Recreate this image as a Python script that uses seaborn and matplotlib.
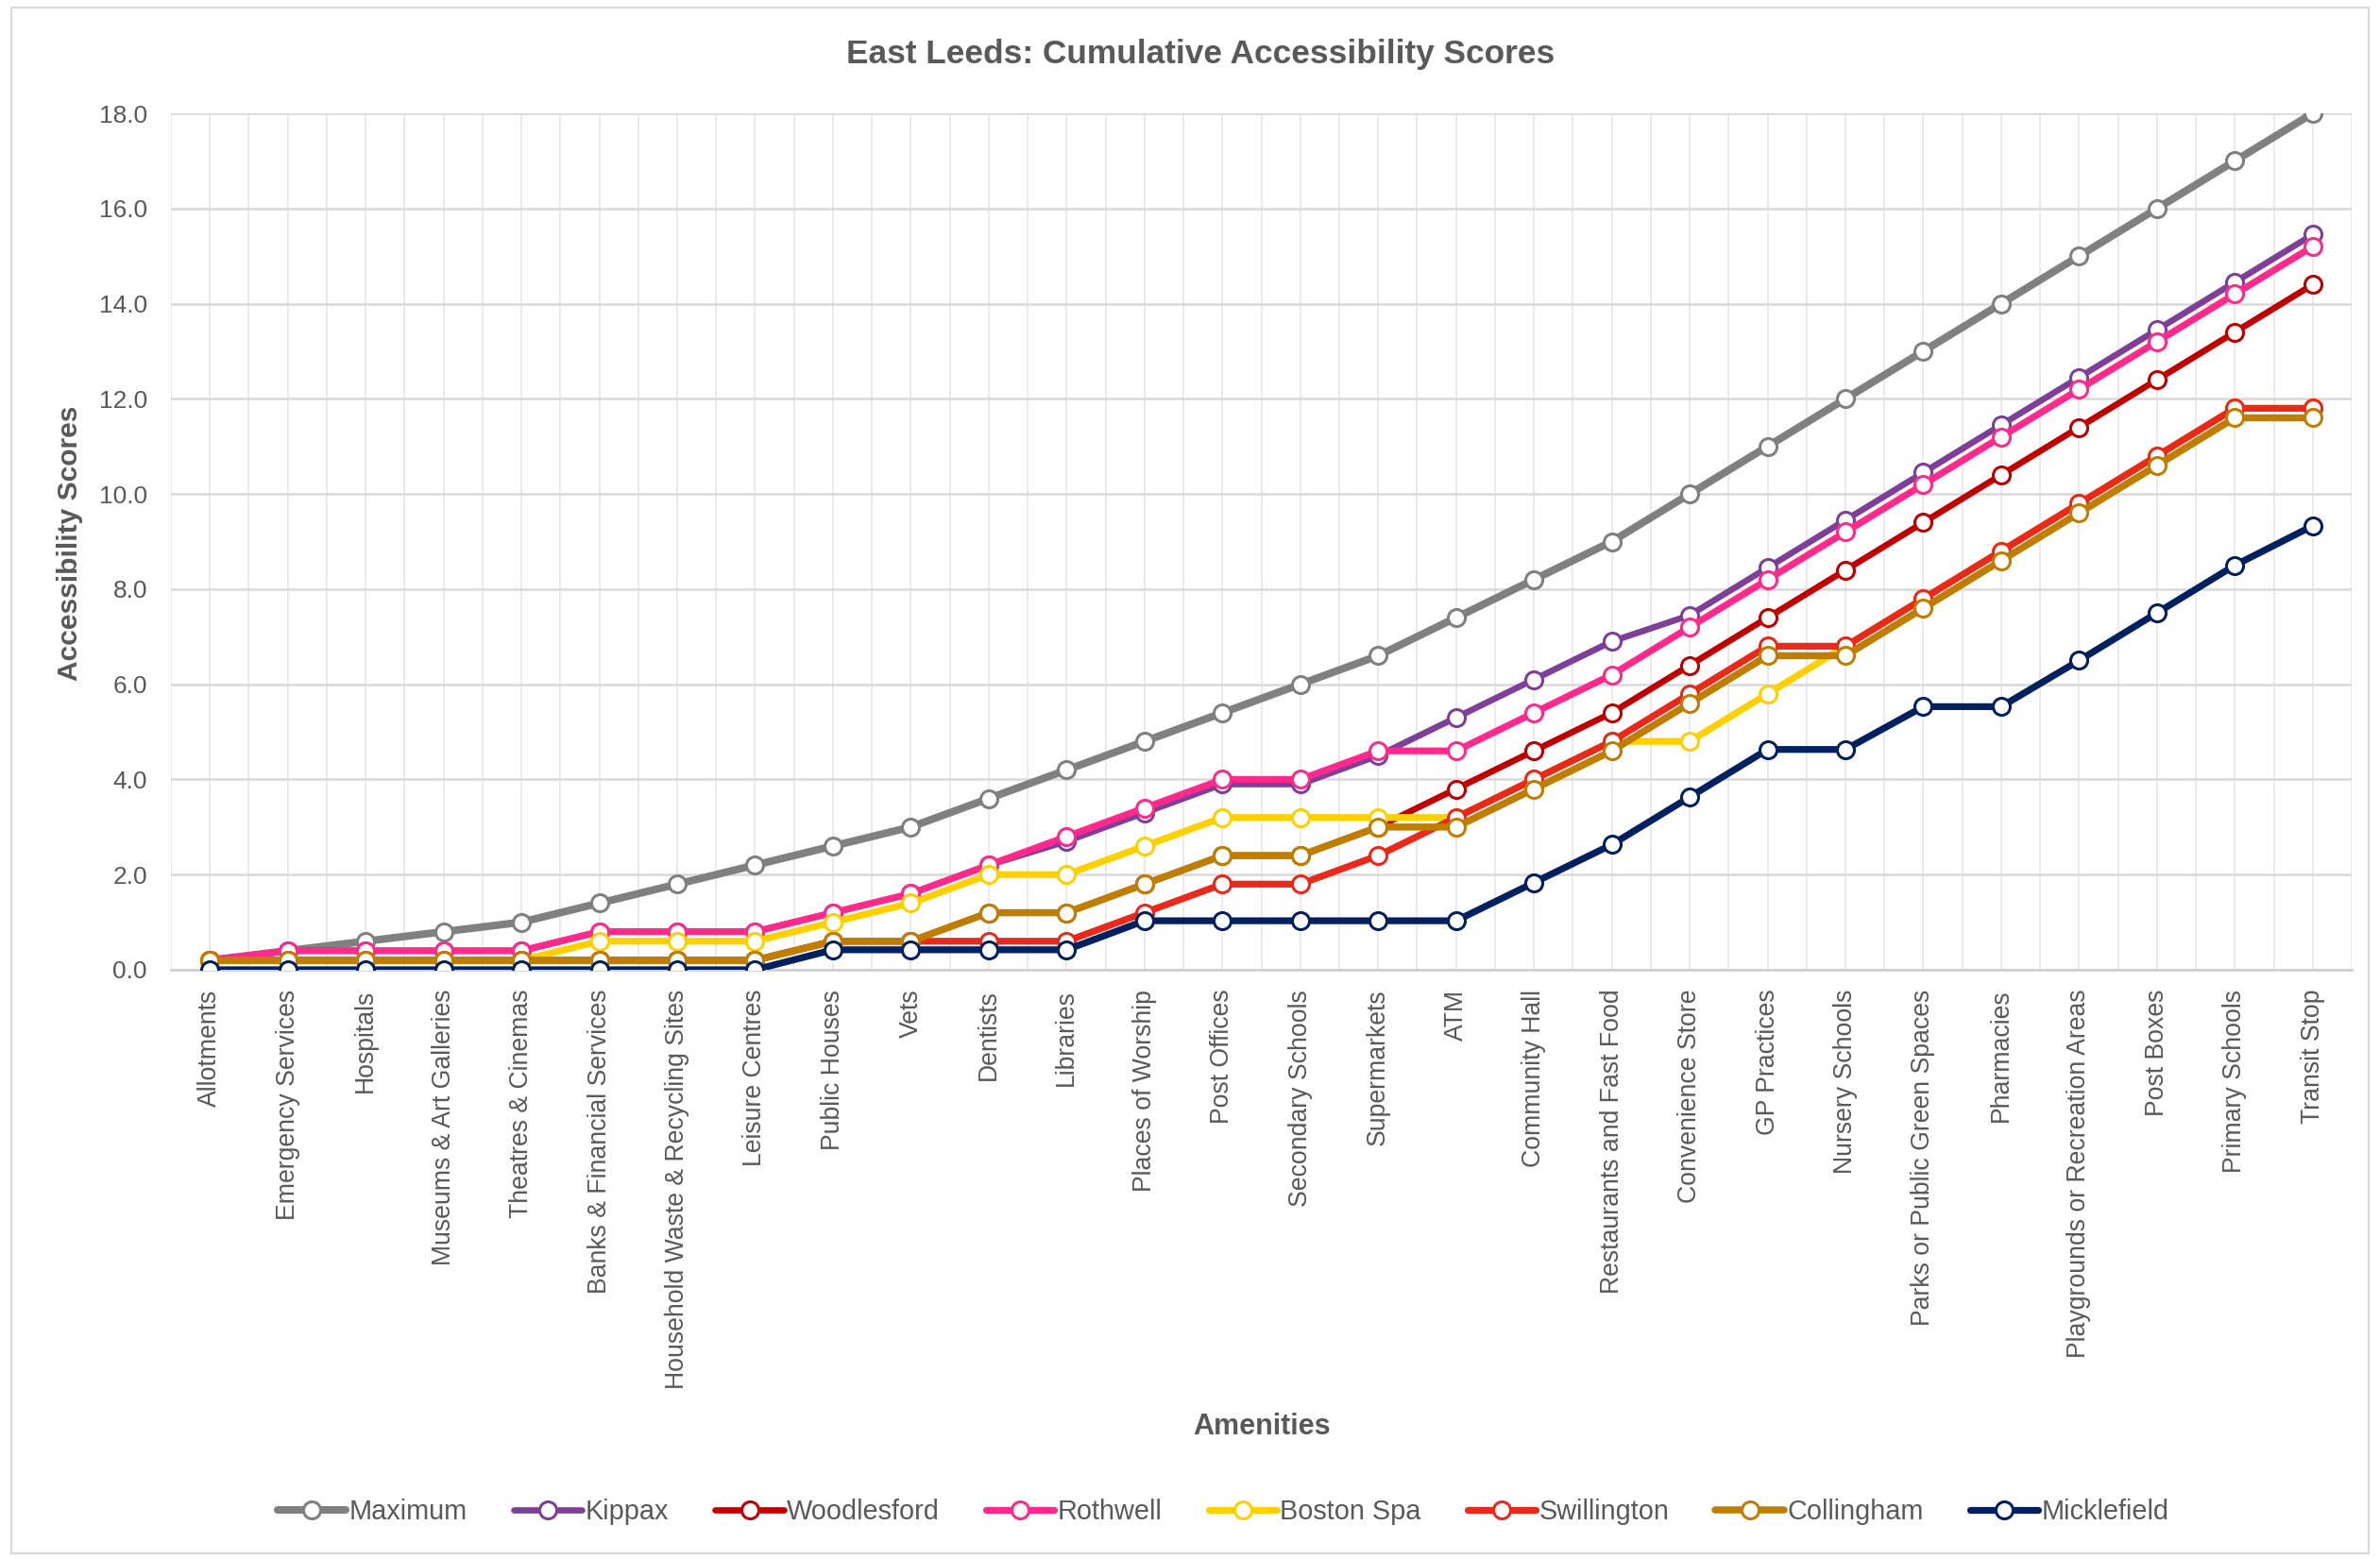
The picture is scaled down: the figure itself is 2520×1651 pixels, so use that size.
import matplotlib
matplotlib.use("Agg")
import matplotlib.pyplot as plt
from matplotlib.patches import Rectangle
from matplotlib.ticker import FixedLocator, FuncFormatter
import pandas as pd
import seaborn as sns

amenities = [
    "Allotments", "Emergency Services", "Hospitals", "Museums & Art Galleries",
    "Theatres & Cinemas", "Banks & Financial Services",
    "Household Waste & Recycling Sites", "Leisure Centres", "Public Houses",
    "Vets", "Dentists", "Libraries", "Places of Worship", "Post Offices",
    "Secondary Schools", "Supermarkets", "ATM", "Community Hall",
    "Restaurants and Fast Food", "Convenience Store", "GP Practices",
    "Nursery Schools", "Parks or Public Green Spaces", "Pharmacies",
    "Playgrounds or Recreation Areas", "Post Boxes", "Primary Schools",
    "Transit Stop",
]

maximum = [0.2, 0.4, 0.6, 0.8, 1.0, 1.4, 1.8, 2.2, 2.6, 3.0, 3.6, 4.2, 4.8, 5.4,
           6.0, 6.6, 7.4, 8.2, 9.0, 10.0, 11.0, 12.0, 13.0, 14.0, 15.0, 16.0, 17.0, 18.0]
kippax = [0.2, 0.4, 0.4, 0.4, 0.4, 0.8, 0.8, 0.8, 1.2, 1.6, 2.2, 2.7, 3.3, 3.9,
          3.9, 4.5, 5.3, 6.1, 6.9, 7.45, 8.45, 9.45, 10.45, 11.45, 12.45, 13.45, 14.45, 15.45]
woodlesford = [0.2, 0.2, 0.2, 0.2, 0.2, 0.2, 0.2, 0.2, 0.6, 0.6, 1.2, 1.2, 1.8, 2.4,
               2.4, 3.0, 3.8, 4.6, 5.4, 6.4, 7.4, 8.4, 9.4, 10.4, 11.4, 12.4, 13.4, 14.4]
rothwell = [0.2, 0.4, 0.4, 0.4, 0.4, 0.8, 0.8, 0.8, 1.2, 1.6, 2.2, 2.8, 3.4, 4.0,
            4.0, 4.6, 4.6, 5.4, 6.2, 7.2, 8.2, 9.2, 10.2, 11.2, 12.2, 13.2, 14.2, 15.2]
boston_spa = [0.2, 0.2, 0.2, 0.2, 0.2, 0.6, 0.6, 0.6, 1.0, 1.4, 2.0, 2.0, 2.6, 3.2,
              3.2, 3.2, 3.2, 4.0, 4.8, 4.8, 5.8, 6.8, 7.8, 8.8, 9.8, 10.8, 11.8, 11.8]
swillington = [0.2, 0.2, 0.2, 0.2, 0.2, 0.2, 0.2, 0.2, 0.6, 0.6, 0.6, 0.6, 1.2, 1.8,
               1.8, 2.4, 3.2, 4.0, 4.8, 5.8, 6.8, 6.8, 7.8, 8.8, 9.8, 10.8, 11.8, 11.8]
collingham = [0.2, 0.2, 0.2, 0.2, 0.2, 0.2, 0.2, 0.2, 0.6, 0.6, 1.2, 1.2, 1.8, 2.4,
              2.4, 3.0, 3.0, 3.8, 4.6, 5.6, 6.6, 6.6, 7.6, 8.6, 9.6, 10.6, 11.6, 11.6]
micklefield = [0.0, 0.0, 0.0, 0.0, 0.0, 0.0, 0.0, 0.0, 0.42, 0.42, 0.42, 0.42, 1.03, 1.03,
               1.03, 1.03, 1.03, 1.83, 2.63, 3.63, 4.63, 4.63, 5.53, 5.53, 6.5, 7.5, 8.5, 9.33]

series_names = ["Maximum", "Kippax", "Woodlesford", "Rothwell", "Boston Spa",
                "Swillington", "Collingham", "Micklefield"]
series_values = [maximum, kippax, woodlesford, rothwell, boston_spa,
                 swillington, collingham, micklefield]
series_colors = ["#808080", "#7E3F98", "#C00000", "#FF2A8C", "#FFD000",
                 "#E8291C", "#BF7E00", "#002060"]
series_widths = [2.9, 2.4, 2.4, 2.6, 2.6, 2.6, 2.7, 2.6]

y_ticks = [0, 2, 4, 6, 8, 10, 12, 14, 16, 18]

df = pd.DataFrame([
    {"Amenity": a, "Area": name, "Score": v}
    for name, vals in zip(series_names, series_values)
    for a, v in zip(amenities, vals)
])

sns.set_theme(style="white")
plt.rcParams["font.family"] = ["Liberation Sans", "DejaVu Sans"]
text_grey = "#595959"

W, H, DPI = 2520, 1651, 200
fig = plt.figure(figsize=(W / DPI, H / DPI), dpi=DPI)
fig.patch.set_facecolor("white")

left, right, top, bottom = 181 / W, 2490 / W, 1 - 120 / H, 1 - 1027 / H
ax = fig.add_axes([left, bottom, right - left, top - bottom])

for name, color, lw in zip(series_names, series_colors, series_widths):
    sns.lineplot(
        data=df[df["Area"] == name], x="Amenity", y="Score", sort=False,
        color=color, linewidth=lw, marker="o", markersize=6.5,
        markerfacecolor="white", markeredgecolor=color, markeredgewidth=1.1,
        label=name, legend=False, ax=ax, zorder=3,
    )

n = len(amenities)
ax.set_xlim(-0.5, n - 0.5)
ax.set_ylim(0, 18)
ax.set_xticks(range(n))
ax.set_xticklabels(amenities, rotation=90, fontsize=9.6, color=text_grey)
ax.xaxis.set_minor_locator(FixedLocator([i - 0.5 for i in range(n + 1)]))
ax.set_yticks(y_ticks)
ax.yaxis.set_major_formatter(FuncFormatter(lambda v, _: f"{v:.1f}"))
ax.tick_params(axis="y", labelsize=9.5, labelcolor=text_grey, length=0, pad=9)
ax.tick_params(axis="x", which="both", length=0, pad=7.5)

ax.grid(axis="y", which="major", color="#D9D9D9", linewidth=0.9)
ax.grid(axis="x", which="both", color="#EAEAEA", linewidth=0.7)
ax.set_axisbelow(True)
for side in ["left", "right", "top"]:
    ax.spines[side].set_visible(False)
ax.spines["bottom"].set_color("#D0D0D0")
ax.spines["bottom"].set_linewidth(1.0)
ax.set_xlabel("")
ax.set_ylabel("")

fig.text(1271 / W, 1 - 58 / H, "East Leeds: Cumulative Accessibility Scores",
         ha="center", va="center", fontsize=12.7, fontweight="bold", color=text_grey)
fig.text(74 / W, 1 - 575 / H, "Accessibility Scores", rotation=90,
         ha="center", va="center", fontsize=10.8, fontweight="bold", color=text_grey)
fig.text(1336 / W, 1 - 1511 / H, "Amenities",
         ha="center", va="center", fontsize=11.0, fontweight="bold", color=text_grey)

handles, labels = ax.get_legend_handles_labels()
leg = fig.legend(handles, labels, loc="center", bbox_to_anchor=(0.514, 1 - 1601 / H),
                 ncol=8, frameon=False, fontsize=10.4, handlelength=2.5,
                 handletextpad=0.12, columnspacing=1.7)
for t in leg.get_texts():
    t.set_color(text_grey)

fig.patches.append(Rectangle((12 / W, 1 - 1645 / H), 2496 / W, 1637 / H,
                             transform=fig.transFigure, fill=False,
                             edgecolor="#D9D9D9", linewidth=0.8))

fig.savefig("out.png", dpi=DPI, facecolor="white")
